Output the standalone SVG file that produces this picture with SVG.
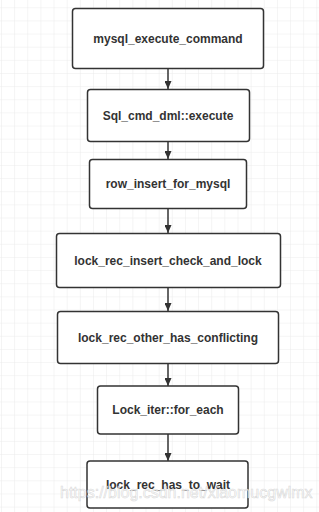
<svg xmlns="http://www.w3.org/2000/svg" width="319" height="512" viewBox="0 0 319 512">
<style>
.box{fill:#ffffff;stroke:#333333;stroke-width:1.5}
.lbl{font-family:"Liberation Sans",Arial,sans-serif;font-size:12px;font-weight:bold;fill:#333333;text-anchor:middle;dominant-baseline:central}
.edge{stroke:#333333;stroke-width:1.5;fill:none}
.wm{font-family:"Liberation Sans",Arial,sans-serif;font-size:16px;fill:#ffffff;fill-opacity:0.75;stroke:#bdbdbd;stroke-opacity:0.6;stroke-width:0.6}
</style>
<defs>
<pattern id="grid" x="1" y="7.3" width="13.14" height="13.14" patternUnits="userSpaceOnUse">
<path d="M0 0H13.14M0 0V13.14" stroke="#ebebeb" stroke-width="1" fill="none"/>
</pattern>
<marker id="arr" markerWidth="8" markerHeight="7" refX="8" refY="3.5" orient="auto" markerUnits="userSpaceOnUse" viewBox="0 0 8 7">
<path d="M0 0L8 3.5L0 7Z" fill="#333333"/>
</marker>
</defs>
<rect width="319" height="512" fill="#ffffff"/>
<rect width="319" height="512" fill="url(#grid)"/>
<g id="connectors">
<path class="edge" d="M168 69V89" marker-end="url(#arr)"/>
<path class="edge" d="M168 142V159" marker-end="url(#arr)"/>
<path class="edge" d="M168 209V233" marker-end="url(#arr)"/>
<path class="edge" d="M168 288V311" marker-end="url(#arr)"/>
<path class="edge" d="M168 364V386" marker-end="url(#arr)"/>
<path class="edge" d="M168 434V461" marker-end="url(#arr)"/>
</g>
<g id="n1"><rect class="box" x="72.5" y="8.5" width="191" height="60" rx="3"/><text class="lbl" x="168" y="38.5">mysql_execute_command</text></g>
<g id="n2"><rect class="box" x="87.5" y="89.5" width="162" height="52" rx="3"/><text class="lbl" x="168" y="115.5">Sql_cmd_dml::execute</text></g>
<g id="n3"><rect class="box" x="89.5" y="159.5" width="157" height="49" rx="3"/><text class="lbl" x="168" y="184">row_insert_for_mysql</text></g>
<g id="n4"><rect class="box" x="56.5" y="233.5" width="224" height="54" rx="3"/><text class="lbl" x="168" y="260.5">lock_rec_insert_check_and_lock</text></g>
<g id="n5"><rect class="box" x="57.5" y="311.5" width="221" height="52" rx="3"/><text class="lbl" x="168" y="337.5">lock_rec_other_has_conflicting</text></g>
<g id="n6"><rect class="box" x="97.5" y="386" width="141" height="48" rx="3"/><text class="lbl" x="168" y="410">Lock_iter::for_each</text></g>
<g id="n7"><rect class="box" x="87" y="461" width="161" height="47" rx="3"/><text class="lbl" x="168" y="484.5">lock_rec_has_to_wait</text></g>
<text class="wm" x="60" y="498">https://blog.csdn.net/xiaomucgwlmx</text>
</svg>
